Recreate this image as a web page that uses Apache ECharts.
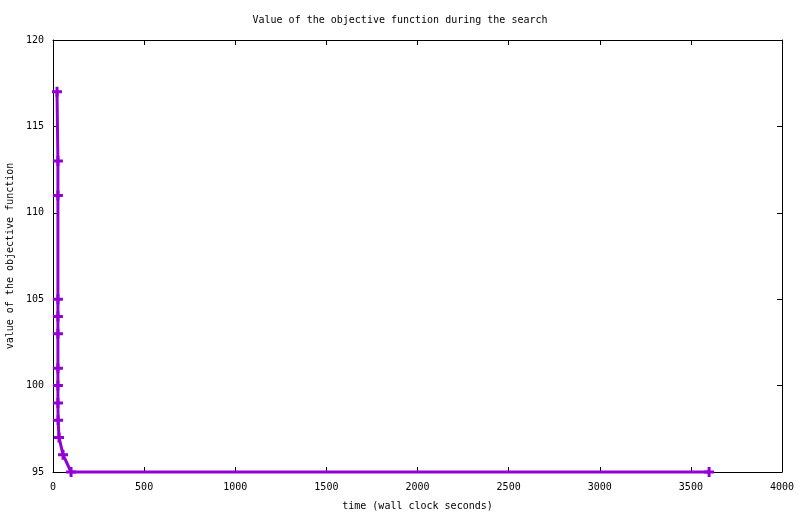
<!DOCTYPE html>
<html>
<head>
<meta charset="utf-8">
<script src="https://cdn.jsdelivr.net/npm/echarts@6/dist/echarts.min.js"></script>
<style>
html,body{margin:0;padding:0;background:#fff;}
#chart{width:800px;height:514px;}
</style>
</head>
<body>
<div id="chart"></div>
<script>
const titleText = "Value of the objective function during the search";
const xAxisName = "time (wall clock seconds)";
const yAxisName = "value of the objective function";
const times = [22, 27, 27, 27, 27, 27, 27, 27, 27, 28, 33, 55, 99, 3600];
const values = [117, 113, 111, 105, 104, 103, 101, 100, 99, 98, 97, 96, 95, 95];
const xMin = 0, xMax = 4000, xStep = 500;
const yMin = 95, yMax = 120, yStep = 5;

const font = "DejaVu Sans Mono";
const chart = echarts.init(document.getElementById('chart'), null, {renderer: 'canvas'});
const plusPath = 'path://M3.5,0H6.5V3.5H10V6.5H6.5V10H3.5V6.5H0V3.5H3.5Z';
const labelStyle = {color: '#000', fontFamily: font, fontSize: 10, formatter: v => String(v)};
const lineStyle = {color: '#000', width: 1};
const tickStyle = {show: true, inside: true, length: 5, lineStyle: {color: '#000', width: 1}};

chart.setOption({
  animation: false,
  backgroundColor: '#fff',
  title: {
    text: titleText, left: 'center', top: 10,
    textStyle: {fontFamily: font, fontSize: 10, fontWeight: 'normal', color: '#000'}
  },
  grid: {left: 53, right: 18, top: 40, bottom: 42, containLabel: false, outerBoundsMode: 'none',
         show: false},
  xAxis: [{
    type: 'value', min: xMin, max: xMax, interval: xStep, position: 'bottom',
    name: xAxisName, nameLocation: 'middle', nameGap: 29,
    nameTextStyle: {fontFamily: font, fontSize: 10, color: '#000'},
    axisLine: {show: true, onZero: false, lineStyle: lineStyle},
    axisTick: tickStyle, splitLine: {show: false},
    axisLabel: Object.assign({margin: 10}, labelStyle)
  }, {
    type: 'value', min: xMin, max: xMax, interval: xStep, position: 'top',
    axisLine: {show: true, onZero: false, lineStyle: lineStyle},
    axisTick: tickStyle, splitLine: {show: false}, axisLabel: {show: false}
  }],
  yAxis: [{
    type: 'value', min: yMin, max: yMax, interval: yStep, position: 'left',
    name: yAxisName, nameLocation: 'middle', nameGap: 38, nameRotate: 90,
    nameTextStyle: {fontFamily: font, fontSize: 10, color: '#000'},
    axisLine: {show: true, onZero: false, lineStyle: lineStyle},
    axisTick: tickStyle, splitLine: {show: false},
    axisLabel: Object.assign({margin: 9}, labelStyle)
  }, {
    type: 'value', min: yMin, max: yMax, interval: yStep, position: 'right',
    axisLine: {show: true, onZero: false, lineStyle: lineStyle},
    axisTick: tickStyle, splitLine: {show: false}, axisLabel: {show: false}
  }],
  series: [{
    type: 'line',
    data: times.map((t, i) => [t, values[i]]),
    xAxisIndex: 0, yAxisIndex: 0,
    symbol: plusPath, symbolSize: 10, showAllSymbol: true,
    itemStyle: {color: '#9400D3', borderWidth: 0},
    lineStyle: {color: '#9400D3', width: 3},
    clip: false
  }]
});
</script>
</body>
</html>
